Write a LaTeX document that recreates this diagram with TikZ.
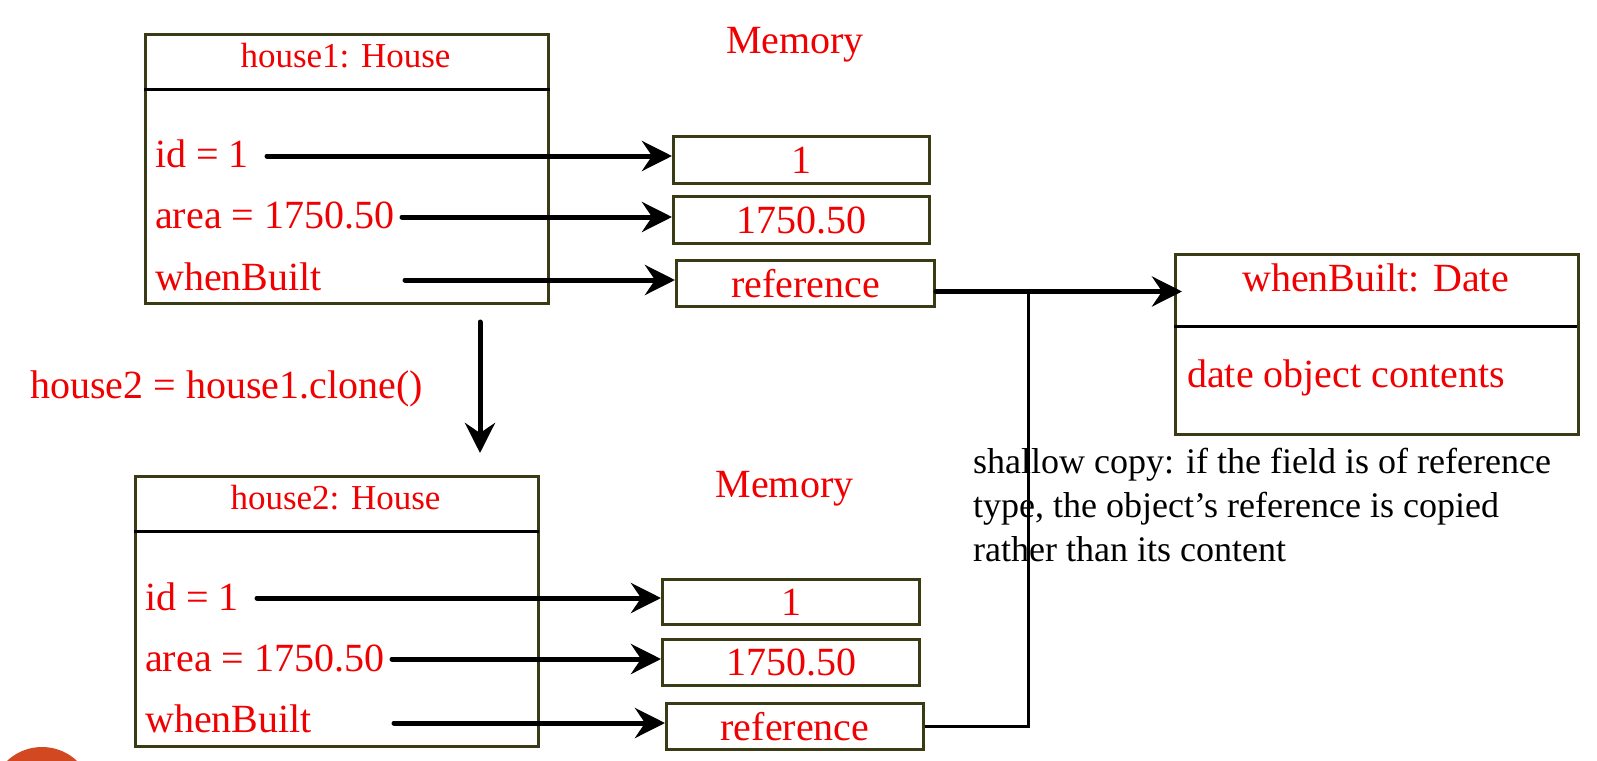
\documentclass[tikz,border=0pt]{standalone}
\usepackage{fontspec}
\setmainfont{Liberation Serif}
\usetikzlibrary{arrows.meta,calc}
\definecolor{boxc}{RGB}{58,58,20}
\definecolor{txtred}{RGB}{240,0,0}
\definecolor{dotc}{RGB}{209,72,33}
\newcommand{\myfs}[1]{\fontsize{#1pt}{#1pt}\selectfont}
\begin{document}
\begin{tikzpicture}[x=1pt,y=-1pt,
  objbox/.style={draw=boxc,line width=3pt,inner sep=0pt,anchor=north west},
  valbox/.style={draw=boxc,line width=3pt,inner sep=0pt,anchor=north west,text=txtred,font=\myfs{40}},
  divline/.style={line width=3pt,black},
  title/.style={text=txtred,font=\myfs{35},inner sep=0pt,anchor=base},
  field/.style={text=txtred,font=\myfs{40},inner sep=0pt,anchor=base west},
  memtxt/.style={text=txtred,font=\myfs{40},inner sep=0pt,anchor=base},
  conn/.style={line width=5pt,black,line cap=round,-{Stealth[length=30pt,width=30pt,inset=10pt]}},
  thinline/.style={line width=3pt,black}
]
\useasboundingbox (0,0) rectangle (1597,760);
\fill[white] (0,0) rectangle (1597,760);
\fill[dotc] (42,798) circle[radius=51];

% ---------- house1 ----------
\node[objbox,minimum width=403pt,minimum height=269pt] (h1) at (144,33) {};
\draw[divline] (144,89) -- (550,89);
\node[title] (h1t) at (345.5,67) {house1: House};
\node[field] (h1id) at (155,167) {id = 1};
\node[field] (h1ar) at (155,228) {area = 1750.50};
\node[field] (h1wb) at (155,290) {whenBuilt};
\node[memtxt] (mem1) at (795,54) {Memory};

\node[valbox,minimum width=256pt,minimum height=47pt] (v11) at (672,135) {1};
\node[valbox,minimum width=256pt,minimum height=47pt] (v12) at (672,195) {1750.50};
\node[valbox,minimum width=258pt,minimum height=46pt] (v13) at (675,259) {reference};

\coordinate (s11) at (267,156);
\coordinate (s12) at (402,217);
\coordinate (s13) at (405,280);
\draw[conn] (s11) -- (s11 -| v11.west);
\draw[conn] (s12) -- (s12 -| v12.west);
\draw[conn] (s13) -- (s13 -| v13.west);

% ---------- Date object ----------
\node[objbox,minimum width=403pt,minimum height=180pt] (dt) at (1174,253) {};
\draw[divline] (1174,326) -- (1577,326);
\node[title,font=\myfs{40}] (dtt) at (1375.5,291) {whenBuilt: Date};
\node[field] (dtc) at (1187,387) {date object contents};

\coordinate (r1) at ($(v13.east)+(0,8)$);
\coordinate (j) at (1028,290);
\draw[conn] (r1) -- ($(r1 -| dt.west)+(8,0)$);

% ---------- clone ----------
\node[field] (clone) at (30,398) {house2 = house1.clone()};
\coordinate (a1) at (480,322);
\coordinate (a2) at (480,453);
\draw[conn] (a1) -- (a2);

% ---------- house2 ----------
\node[objbox,minimum width=403pt,minimum height=270pt] (h2) at (134,475) {};
\draw[divline] (134,531) -- (539,531);
\node[title] (h2t) at (335.5,509) {house2: House};
\node[field] (h2id) at (145,610) {id = 1};
\node[field] (h2ar) at (145,671) {area = 1750.50};
\node[field] (h2wb) at (145,732) {whenBuilt};
\node[memtxt] (mem2) at (784.5,497) {Memory};

\node[valbox,minimum width=257pt,minimum height=45pt] (v21) at (661,578) {1};
\node[valbox,minimum width=257pt,minimum height=46pt] (v22) at (661,638) {1750.50};
\node[valbox,minimum width=257pt,minimum height=46pt] (v23) at (665,702) {reference};

\coordinate (s21) at (257,598);
\coordinate (s22) at (392,659);
\coordinate (s23) at (394,723);
\draw[conn] (s21) -- (s21 -| v21.west);
\draw[conn] (s22) -- (s22 -| v22.west);
\draw[conn] (s23) -- (s23 -| v23.west);

\draw[thinline] (v23.east) -| (j);

% ---------- note ----------
\node[inner sep=0pt,anchor=base west,align=left,font=\fontsize{36pt}{44pt}\selectfont] (note) at (973,561)
  {shallow copy: if the field is of reference\\type, the object’s reference is copied\\rather than its content};
\end{tikzpicture}
\end{document}
